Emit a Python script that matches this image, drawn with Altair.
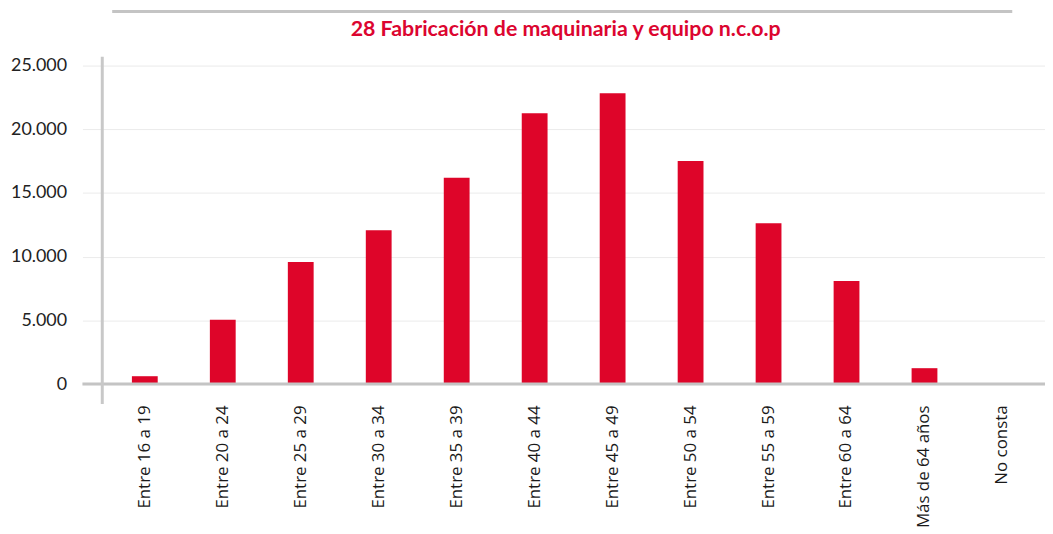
import altair as alt
import pandas as pd

categories = ["Entre 16 a 19", "Entre 20 a 24", "Entre 25 a 29", "Entre 30 a 34",
              "Entre 35 a 39", "Entre 40 a 44", "Entre 45 a 49", "Entre 50 a 54",
              "Entre 55 a 59", "Entre 60 a 64", "Más de 64 años", "No consta"]
values = [620, 5060, 9580, 12070, 16200, 21260, 22820, 17520, 12620, 8100, 1250, 0]
y_ticks = [0, 5000, 10000, 15000, 20000, 25000]
title_text = "28 Fabricación de maquinaria y equipo n.c.o.p"

RED = "#DE0529"
df = pd.DataFrame({"cat": categories, "value": values})

bars = alt.Chart(df).mark_bar(color=RED).encode(
    x=alt.X("cat:N", sort=categories, title=None,
            scale=alt.Scale(paddingInner=0.669, paddingOuter=0.38),
            axis=alt.Axis(labelAngle=-90, labelFont="Open Sans", labelFontSize=17,
                          labelColor="#1a1a1a", ticks=False, domain=False,
                          labelPadding=21, grid=False)),
    y=alt.Y("value:Q", title=None,
            scale=alt.Scale(domain=[0, 25000], nice=False),
            axis=alt.Axis(values=y_ticks, domain=False, tickSize=20, tickColor="#ebebeb",
                          gridColor="#ebebeb", labelFont="Lato", labelFontSize=18,
                          labelPadding=16, labelColor="#222222",
                          labelExpr="replace(format(datum.value, ','), ',', '.')")),
)

one = pd.DataFrame({"v": [0]})

zero_line = alt.Chart(one).mark_rule(color="#c4c4c4", strokeWidth=3).encode(
    y=alt.datum(0), x=alt.value(-20), x2=alt.value(950))

y_axis_line = alt.Chart(one).mark_rule(color="#c8c8c8", strokeWidth=3).encode(
    x=alt.value(0), y=alt.value(-9), y2=alt.value(341))

top_line = alt.Chart(one).mark_rule(color="#c4c4c4", strokeWidth=3).encode(
    x=alt.value(10), x2=alt.value(917), y=alt.value(-54.5))

title = alt.Chart(pd.DataFrame({"t": [title_text]})).mark_text(
    font="Lato", fontWeight="bold", fontSize=21.5, color="#DC0530",
    align="center", baseline="alphabetic").encode(
    text="t:N", x=alt.value(467), y=alt.value(-30))

chart = alt.layer(bars, zero_line, y_axis_line, top_line, title).properties(
    width=950, height=321,
    autosize=alt.AutoSizeParams(type="none"),
    padding={"left": 95, "top": 56, "right": 0, "bottom": 145},
).configure_view(stroke=None)

chart.save("out.html", embed_options={"renderer": "svg", "actions": False})
